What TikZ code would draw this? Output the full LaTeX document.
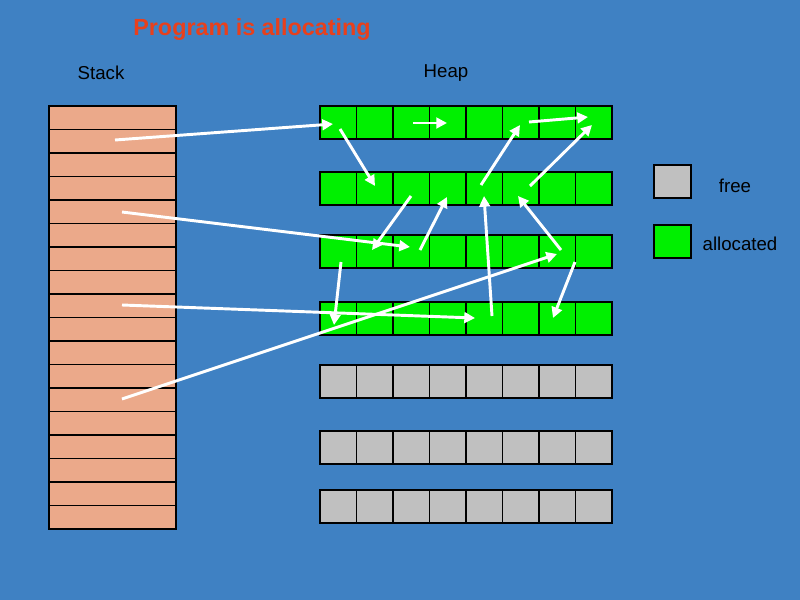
\documentclass[tikz,border=0pt]{standalone}
\usepackage{fontspec}
\setmainfont{Liberation Sans}
\usetikzlibrary{arrows.meta}
\definecolor{bg}{HTML}{3F81C3}
\definecolor{stk}{HTML}{EBA98A}
\definecolor{alloc}{HTML}{00F000}
\definecolor{free}{HTML}{C0C0C0}
\definecolor{ttl}{HTML}{E8401C}
\begin{document}
\begin{tikzpicture}[x=0.75pt,y=-0.75pt,
  cell/.style={draw=black,line width=1.1pt},
  ptr/.style={white,line width=2.2pt,-{Triangle[length=8pt,width=8pt]}},
  lbl/.style={font=\fontsize{14}{16}\selectfont,inner sep=0pt}]
\fill[bg] (0,0) rectangle (800,600);
\useasboundingbox (0,0) rectangle (800,600);
\node[lbl,text=ttl,font=\bfseries\fontsize{17.5}{20}\selectfont] (title) at (252,30) {Program is allocating};
\node[lbl] (stacklbl) at (101,73) {Stack};
\node[lbl] (heaplbl) at (446,73) {Heap};
% stack
\foreach \i in {0,...,17}
  \draw[cell,fill=stk] (49,{106+\i*23.5}) rectangle (176,{106+(\i+1)*23.5});
% heap
\foreach \r/\y/\c in {1/106/alloc,2/172/alloc,3/235/alloc,4/302/alloc,5/365/free,6/431/free,7/490/free}
  \foreach \k in {0,...,7}
    \draw[cell,fill=\c] ({320+\k*36.5},\y) rectangle ({320+(\k+1)*36.5},\y+33);
% legend
\draw[cell,fill=free] (654,165) rectangle (691,198);
\draw[cell,fill=alloc] (654,225) rectangle (691,258);
\node[lbl] (freelbl) at (735,186) {free};
\node[lbl] (alloclbl) at (740,244) {allocated};
% pointer endpoints
\foreach \n/\x/\y in {s1/115/140, e1/333/124, a2/340/129, b2/375/186, a3/413/123, b3/447/123,
  a4/529/122, b4/588/117, a5/481/185, b5/520/125, a6/530/186, b6/592/125,
  a7/411/196, b7/372/250, a8/420/250, b8/447/197, a9/492/316, b9/484/196,
  a10/561/250, b10/518/196, a11/575/262, b11/553/318, a12/341/262, b12/334/325,
  s13/122/212, e13/410/247, s14/122/305, e14/475/318, s15/122/399, e15/557/254}
  \coordinate (\n) at (\x,\y);
\draw[ptr] (s1) -- (e1);
\draw[ptr] (a2) -- (b2);
\draw[ptr] (a3) -- (b3);
\draw[ptr] (a4) -- (b4);
\draw[ptr] (a5) -- (b5);
\draw[ptr] (a6) -- (b6);
\draw[ptr] (a7) -- (b7);
\draw[ptr] (a8) -- (b8);
\draw[ptr] (a9) -- (b9);
\draw[ptr] (a10) -- (b10);
\draw[ptr] (a11) -- (b11);
\draw[ptr] (a12) -- (b12);
\draw[ptr] (s13) -- (e13);
\draw[ptr] (s14) -- (e14);
\draw[ptr] (s15) -- (e15);
\end{tikzpicture}
\end{document}
